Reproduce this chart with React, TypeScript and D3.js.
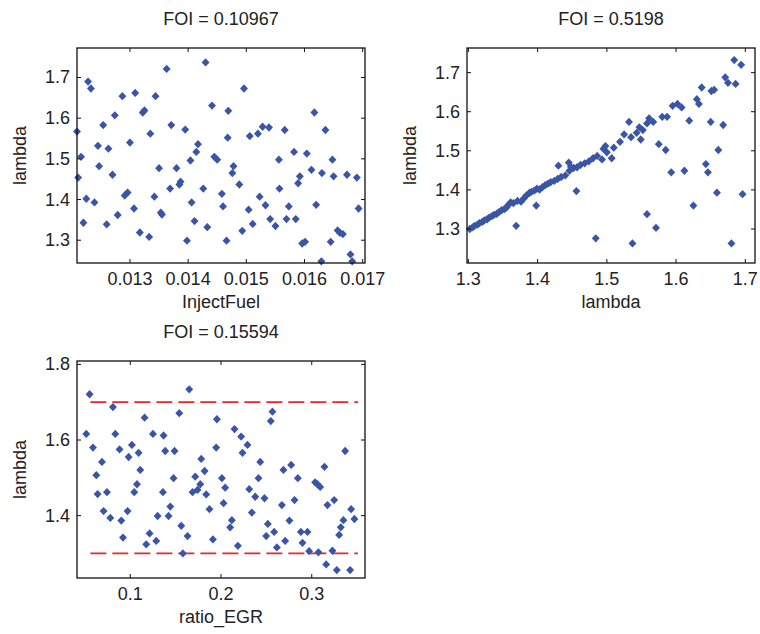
import React from "react";
import * as d3 from "d3";

// ---------- Panel 1: InjectFuel vs lambda ----------
const P1_X = [0.01209,0.01228,0.01233,0.01363,0.01430,0.01287,0.01309,0.01344,0.01441,0.01469,
0.01254,0.01274,0.01322,0.01325,0.01371,0.01395,0.01335,0.01468,0.01245,0.01263,
0.01300,0.01417,0.01414,0.01445,0.01216,0.01496,0.01617,0.01506,0.01520,0.01528,
0.01539,0.01566,0.01636,0.01582,0.01604,0.01211,0.01247,0.01270,0.01225,0.01239,
0.01220,0.01260,0.01279,0.01291,0.01296,0.01307,0.01317,0.01333,0.01342,0.01350,
0.01353,0.01355,0.01369,0.01380,0.01385,0.01387,0.01404,0.01450,0.01426,0.01406,
0.01411,0.01433,0.01398,0.01458,0.01460,0.01466,0.01556,0.01648,0.01478,0.01476,
0.01488,0.01612,0.01630,0.01650,0.01673,0.01690,0.01592,0.01589,0.01557,0.01523,
0.01533,0.01504,0.01573,0.01620,0.01693,0.01541,0.01550,0.01569,0.01585,0.01511,
0.01493,0.01596,0.01601,0.01645,0.01657,0.01661,0.01666,0.01629,0.01679,0.01682];
const P1_Y = [1.567,1.690,1.673,1.721,1.737,1.654,1.662,1.654,1.631,1.618,
1.583,1.607,1.614,1.619,1.583,1.572,1.562,1.552,1.532,1.525,
1.540,1.536,1.517,1.505,1.505,1.673,1.614,1.556,1.562,1.579,
1.577,1.571,1.571,1.517,1.513,1.454,1.482,1.461,1.402,1.393,
1.343,1.339,1.362,1.410,1.417,1.378,1.319,1.308,1.407,1.477,
1.368,1.363,1.427,1.477,1.437,1.444,1.496,1.498,1.427,1.393,
1.347,1.332,1.299,1.414,1.383,1.299,1.498,1.498,1.482,1.465,
1.437,1.473,1.465,1.457,1.461,1.454,1.457,1.440,1.427,1.407,
1.386,1.375,1.383,1.387,1.378,1.352,1.335,1.352,1.352,1.340,
1.323,1.292,1.296,1.296,1.324,1.318,1.315,1.248,1.265,1.248];

// ---------- Panel 2: lambda vs lambda ----------
const P2_X = [1.302,1.306,1.309,1.313,1.316,1.320,1.323,1.327,1.330,1.334,
1.337,1.341,1.344,1.348,1.352,1.355,1.358,1.361,1.365,1.371,
1.376,1.380,1.384,1.388,1.391,1.395,1.399,1.403,1.407,1.411,
1.415,1.419,1.424,1.429,1.434,1.440,1.446,1.452,1.457,1.462,
1.468,1.474,1.480,1.486,1.500,
1.369,1.398,1.456,1.484,1.430,1.445,1.448,1.493,1.507,
1.684,1.694,1.671,1.675,1.686,1.637,1.655,1.651,1.630,1.633,
1.595,1.602,1.608,1.580,1.587,1.561,1.567,1.558,1.532,1.547,
1.552,1.543,1.525,1.535,1.619,1.650,1.668,1.549,1.519,1.510,
1.498,1.495,1.575,1.585,1.661,
1.593,1.612,1.643,1.646,1.659,1.696,1.625,1.558,1.571,1.537,1.680];
const P2_Y = [1.300,1.304,1.308,1.311,1.315,1.318,1.322,1.325,1.329,1.333,
1.336,1.339,1.343,1.348,1.351,1.355,1.362,1.368,1.366,1.372,
1.370,1.378,1.386,1.392,1.395,1.398,1.403,1.401,1.407,1.412,
1.416,1.420,1.423,1.428,1.433,1.437,1.449,1.456,1.458,1.464,
1.468,1.473,1.481,1.487,1.496,
1.308,1.360,1.397,1.276,1.462,1.470,1.459,1.478,1.481,
1.732,1.720,1.688,1.674,1.671,1.662,1.656,1.653,1.632,1.620,
1.615,1.620,1.611,1.587,1.587,1.583,1.574,1.570,1.574,1.560,
1.553,1.546,1.542,1.535,1.577,1.574,1.566,1.529,1.523,1.508,
1.512,1.505,1.517,1.502,1.502,
1.445,1.449,1.466,1.445,1.393,1.389,1.360,1.338,1.303,1.263,1.263];

// ---------- Panel 3: ratio_EGR vs lambda ----------
const P3_X = [0.0552,0.0809,0.1650,0.1540,0.1158,0.1955,0.0515,0.0835,0.1250,0.1367,
0.0589,0.0882,0.1018,0.1092,0.0982,0.1385,0.1488,0.0688,0.1947,0.1782,
0.1819,0.1110,
0.2567,0.2549,0.2149,0.2222,0.2292,0.2237,0.2432,0.2688,0.2773,0.3140,0.3368,
0.0626,0.0640,0.0743,0.1074,0.1044,0.0706,0.0780,0.0901,0.0970,0.0920,
0.1213,0.1176,0.1286,0.1301,0.1360,0.1422,0.1441,0.1477,0.1562,0.1631,
0.1580,0.1716,0.1741,0.1771,0.1686,0.1837,0.1873,0.1911,
0.2010,0.2046,0.2028,0.2120,0.2101,0.2186,0.2311,0.2377,0.2413,0.2479,
0.2340,0.2516,0.2498,0.2586,0.2616,0.2707,0.2671,0.2810,0.2754,0.2847,
0.2880,0.2953,0.2898,0.2971,0.3074,0.3037,0.3063,0.3093,0.3173,0.3247,
0.3228,0.3159,0.3276,0.3423,0.3434,0.3470,0.3349,0.3320,0.3302];
const P3_Y = [1.721,1.687,1.734,1.671,1.659,1.655,1.616,1.616,1.616,1.612,
1.580,1.575,1.587,1.566,1.555,1.571,1.571,1.542,1.580,1.550,
1.518,1.521,
1.675,1.650,1.629,1.609,1.587,1.566,1.542,1.521,1.534,1.529,1.571,
1.507,1.457,1.462,1.483,1.462,1.412,1.394,1.387,1.412,1.342,
1.353,1.324,1.333,1.399,1.462,1.399,1.424,1.499,1.373,1.346,
1.300,1.503,1.468,1.483,1.462,1.456,1.417,1.337,
1.499,1.474,1.433,1.388,1.369,1.320,1.470,1.450,1.499,1.446,
1.408,1.378,1.346,1.357,1.316,1.333,1.428,1.441,1.387,1.499,
1.357,1.357,1.328,1.306,1.303,1.488,1.483,1.476,1.428,1.441,
1.307,1.271,1.256,1.256,1.417,1.391,1.388,1.369,1.349];

// Reference lines in panel 3
const P3_REF_LEVELS = [1.3, 1.7];
const P3_REF_SPAN = [0.056, 0.351];

// Titles / labels / ticks
const TITLES = ["FOI = 0.10967", "FOI = 0.5198", "FOI = 0.15594"];
const X_LABELS = ["InjectFuel", "lambda", "ratio_EGR"];
const Y_LABELS = ["lambda", "lambda", "lambda"];
const P1_XTICKS = [0.013, 0.014, 0.015, 0.016, 0.017];
const P1_YTICKS = [1.3, 1.4, 1.5, 1.6, 1.7];
const P2_XTICKS = [1.3, 1.4, 1.5, 1.6, 1.7];
const P2_YTICKS = [1.3, 1.4, 1.5, 1.6, 1.7];
const P3_XTICKS = [0.1, 0.2, 0.3];
const P3_YTICKS = [1.4, 1.6, 1.8];

const FONT = "'Liberation Sans', Arial, Helvetica, sans-serif";
const MARK = "#3a55a6";

type PanelProps = {
  box: { x0: number; x1: number; y0: number; y1: number };
  xDomain: [number, number];
  yDomain: [number, number];
  xs: number[];
  ys: number[];
  xTicks: number[];
  yTicks: number[];
  xFmt: (v: number) => string;
  yFmt: (v: number) => string;
  title: string;
  xLabel: string;
  yLabel: string;
  yLabelX: number;
  refs?: boolean;
};

function Panel(p: PanelProps) {
  const { x0, x1, y0, y1 } = p.box;
  const xs = d3.scaleLinear().domain(p.xDomain).range([x0, x1]);
  const ys = d3.scaleLinear().domain(p.yDomain).range([y1, y0]);
  const diamond = d3.symbol().type(d3.symbolDiamond2).size(40)() as string;
  const tl = 4;
  const cx = (x0 + x1) / 2;
  const cy = (y0 + y1) / 2;
  return (
    <g>
      {p.refs &&
        P3_REF_LEVELS.map((lv, i) => (
          <line
            key={"r" + i}
            x1={xs(P3_REF_SPAN[0])}
            x2={xs(P3_REF_SPAN[1])}
            y1={ys(lv)}
            y2={ys(lv)}
            stroke="#e8262a"
            strokeWidth={1.8}
            strokeDasharray="16,6"
          />
        ))}
      {p.xs.map((v, i) => (
        <path
          key={i}
          d={diamond}
          transform={`translate(${xs(v)},${ys(p.ys[i])}) scale(1,1.05)`}
          fill={MARK}
        />
      ))}
      <rect x={x0} y={y0} width={x1 - x0} height={y1 - y0} fill="none" stroke="#111" strokeWidth={1.3} />
      {p.xTicks.map((t, i) => (
        <g key={"xt" + i}>
          <line x1={xs(t)} x2={xs(t)} y1={y1} y2={y1 - tl} stroke="#111" />
          <line x1={xs(t)} x2={xs(t)} y1={y0} y2={y0 + tl} stroke="#111" />
          <text x={xs(t)} y={y1 + 22} textAnchor="middle" fontSize={18} fontFamily={FONT} fill="#222">
            {p.xFmt(t)}
          </text>
        </g>
      ))}
      {p.yTicks.map((t, i) => (
        <g key={"yt" + i}>
          <line x1={x0} x2={x0 + tl} y1={ys(t)} y2={ys(t)} stroke="#111" />
          <line x1={x1} x2={x1 - tl} y1={ys(t)} y2={ys(t)} stroke="#111" />
          <text x={x0 - 7} y={ys(t) + 6} textAnchor="end" fontSize={18} fontFamily={FONT} fill="#222">
            {p.yFmt(t)}
          </text>
        </g>
      ))}
      <text x={cx} y={y0 - 23} textAnchor="middle" fontSize={18} fontFamily={FONT} fill="#222">
        {p.title}
      </text>
      <text x={cx} y={y1 + 45} textAnchor="middle" fontSize={18} fontFamily={FONT} fill="#222">
        {p.xLabel}
      </text>
      <text
        x={p.yLabelX}
        y={cy}
        textAnchor="middle"
        fontSize={18}
        fontFamily={FONT}
        fill="#222"
        transform={`rotate(-90,${p.yLabelX},${cy})`}
      >
        {p.yLabel}
      </text>
    </g>
  );
}

export default function App() {
  const f3 = d3.format(".3f");
  const f1 = d3.format(".1f");
  return (
    <svg
      width={760}
      height={634}
      style={{ position: "absolute", left: 0, top: 0, background: "#fff" }}
    >
      <rect width={760} height={634} fill="#fff" />
      <Panel
        box={{ x0: 77, x1: 365, y0: 48, y1: 263 }}
        xDomain={[0.01209, 0.01704]}
        yDomain={[1.244, 1.7725]}
        xs={P1_X}
        ys={P1_Y}
        xTicks={P1_XTICKS}
        yTicks={P1_YTICKS}
        xFmt={f3}
        yFmt={f1}
        title={TITLES[0]}
        xLabel={X_LABELS[0]}
        yLabel={Y_LABELS[0]}
        yLabelX={26}
      />
      <Panel
        box={{ x0: 467, x1: 755, y0: 48, y1: 263 }}
        xDomain={[1.298, 1.714]}
        yDomain={[1.213, 1.763]}
        xs={P2_X}
        ys={P2_Y}
        xTicks={P2_XTICKS}
        yTicks={P2_YTICKS}
        xFmt={f1}
        yFmt={f1}
        title={TITLES[1]}
        xLabel={X_LABELS[1]}
        yLabel={Y_LABELS[1]}
        yLabelX={416}
      />
      <Panel
        box={{ x0: 77, x1: 365, y0: 361, y1: 578 }}
        xDomain={[0.0413, 0.3587]}
        yDomain={[1.235, 1.809]}
        xs={P3_X}
        ys={P3_Y}
        xTicks={P3_XTICKS}
        yTicks={P3_YTICKS}
        xFmt={f1}
        yFmt={f1}
        title={TITLES[2]}
        xLabel={X_LABELS[2]}
        yLabel={Y_LABELS[2]}
        yLabelX={26}
        refs
      />
    </svg>
  );
}
